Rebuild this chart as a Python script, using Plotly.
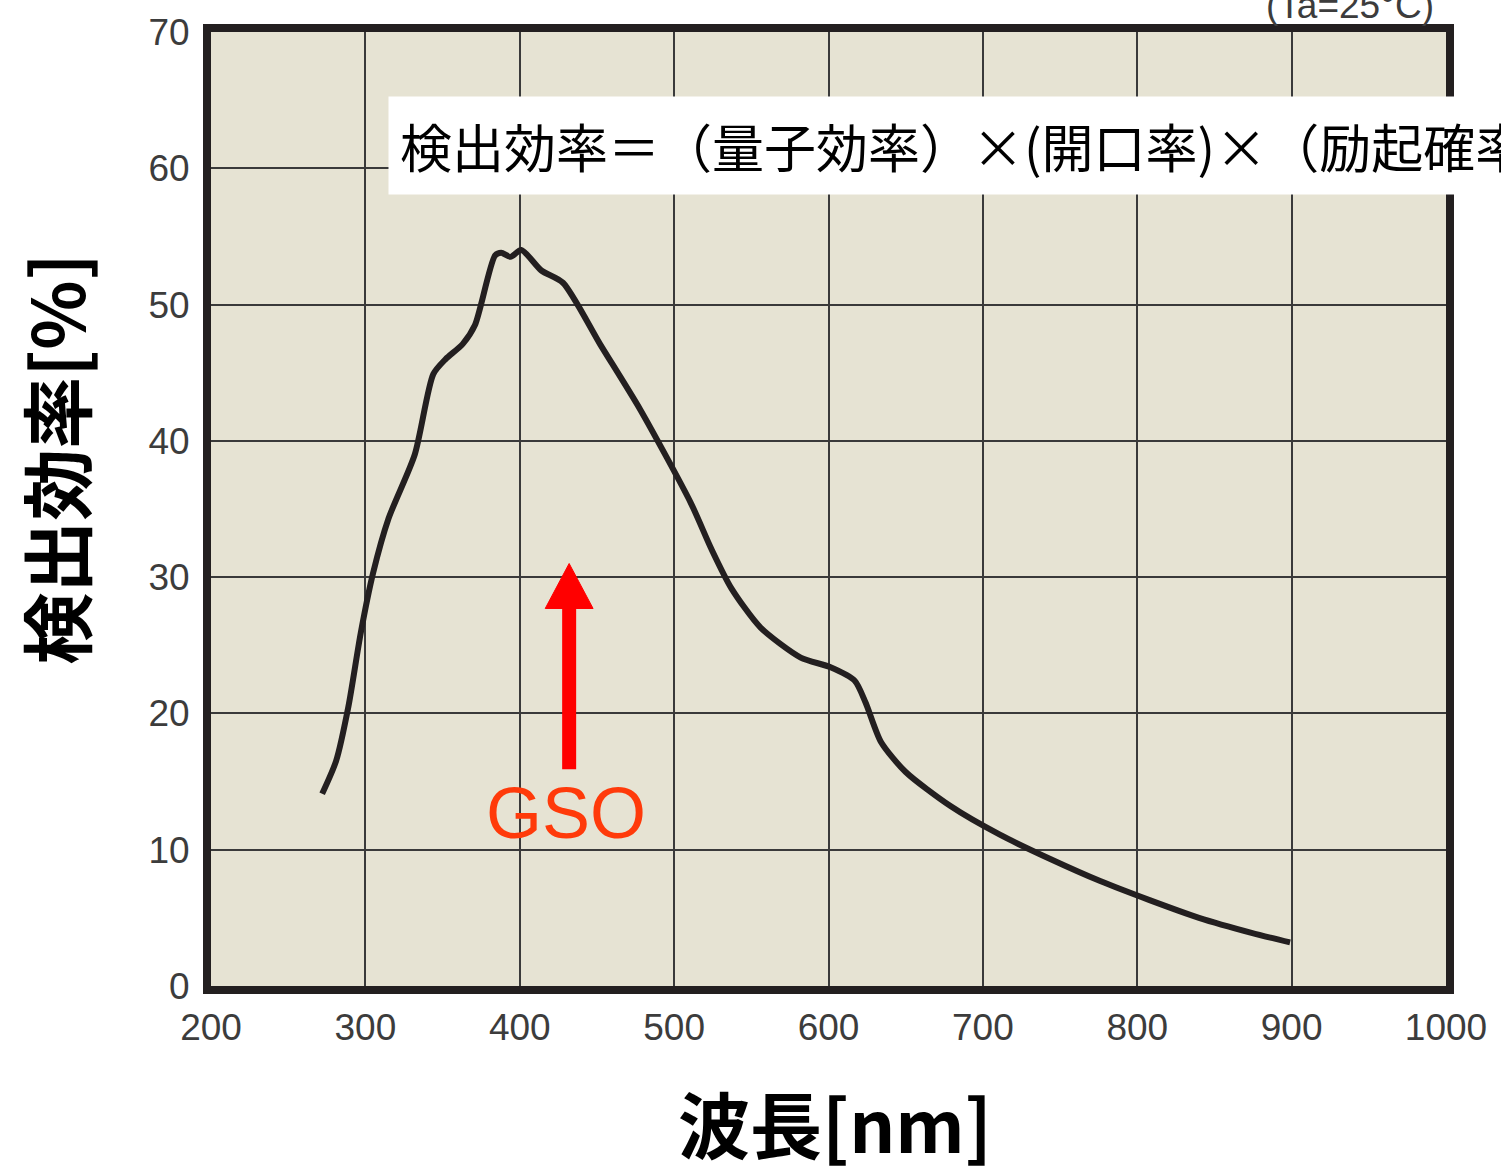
import plotly.graph_objects as go

wavelength = [272, 281, 289, 297, 305, 315, 332, 344, 352, 363, 371, 384, 388, 394, 401, 414, 428,
              452, 478, 511, 524, 537, 556, 582, 601, 617, 624, 634, 650, 679, 711, 744, 776, 808,
              840, 874, 899]
efficiency = [14.1, 16.5, 20.5, 25.9, 30.3, 34.3, 39.0, 44.9, 46.0, 47.1, 48.5, 53.6, 53.8, 53.5,
              54.0, 52.5, 51.6, 47.1, 42.3, 35.4, 32.1, 29.2, 26.3, 24.1, 23.4, 22.4, 20.8, 17.9,
              15.7, 13.2, 11.1, 9.3, 7.7, 6.3, 5.0, 3.9, 3.2]
x_ticks = [200, 300, 400, 500, 600, 700, 800, 900, 1000]
y_ticks = [0, 10, 20, 30, 40, 50, 60, 70]

W, H = 1501, 1169
ML, MR, MT, MB = 211, 55, 25, 183
PW, PH = W - ML - MR, H - MT - MB


def px_x(p):
    return (p - ML) / PW


def px_y(p):
    return (MT + PH - p) / PH


fig = go.Figure()
fig.add_trace(go.Scatter(x=wavelength, y=efficiency, mode="lines",
                         line=dict(color="#231f20", width=6, shape="spline", smoothing=0.7),
                         showlegend=False, hoverinfo="skip"))

axis_common = dict(showgrid=True, gridcolor="#3a3a3a", gridwidth=2,
                   showline=True, linecolor="#231f20", linewidth=8, mirror=True,
                   zeroline=False, ticks="",
                   tickfont=dict(family="Liberation Sans, Arial", size=37, color="#3c3c3c"))

fig.update_layout(
    width=W, height=H,
    margin=dict(l=ML, r=MR, t=MT, b=MB),
    paper_bgcolor="white", plot_bgcolor="#e6e3d3",
    xaxis=dict(range=[200, 1000], tickvals=x_ticks, ticktext=[str(v) for v in x_ticks],
               **axis_common),
    yaxis=dict(range=[0, 70], tickvals=y_ticks, ticktext=[str(v) for v in y_ticks],
               **axis_common),
)
fig.update_xaxes(ticklabelstandoff=2)
fig.update_yaxes(ticklabelstandoff=6)

# Axis titles
fig.add_annotation(x=px_x(835), y=px_y(1122), xref="paper", yref="paper",
                   xanchor="center", yanchor="middle", text="波長[nm]", showarrow=False,
                   borderpad=0,
                   font=dict(family="Noto Sans CJK JP", size=72, color="black", weight="bold"))
fig.add_annotation(x=px_x(54), y=px_y(455), xref="paper", yref="paper",
                   xanchor="center", yanchor="middle", text="検出効率[%]", showarrow=False,
                   textangle=-90,
                   font=dict(family="Noto Sans CJK JP", size=72, color="black", weight="bold"))

# Red arrow (shaft + head)
ax_x = 432
fig.add_shape(type="line", x0=ax_x, x1=ax_x, y0=15.9, y1=28.5, xref="x", yref="y",
              line=dict(color="#ff0000", width=14))
fig.add_shape(type="path", xref="x", yref="y",
              path=f"M {ax_x-15.5},27.7 L {ax_x+15.5},27.7 L {ax_x},31.0 Z",
              fillcolor="#ff0000", line=dict(color="#ff0000", width=1))

fig.add_annotation(x=430, y=12.7, xref="x", yref="y", text="GSO", showarrow=False,
                   font=dict(family="Liberation Sans, Arial", size=72, color="#ff3a0a"))

# Formula box (extends past the right edge, as in the reference)
fig.add_annotation(x=px_x(388), y=px_y(139), xref="paper", yref="paper",
                   xanchor="left", yanchor="middle",
                   text="検出効率＝（量子効率）×(開口率)×（励起確率）",
                   showarrow=False, bgcolor="white", borderpad=11,
                   font=dict(family="Noto Sans CJK JP", size=52, color="black"))

fig.add_annotation(x=px_x(1350), y=px_y(-2), xref="paper", yref="paper",
                   xanchor="center", yanchor="middle", text="(Ta=25°C)", showarrow=False,
                   font=dict(family="Liberation Sans, Arial", size=37, color="#3c3c3c"))

fig.write_html("out.html")
